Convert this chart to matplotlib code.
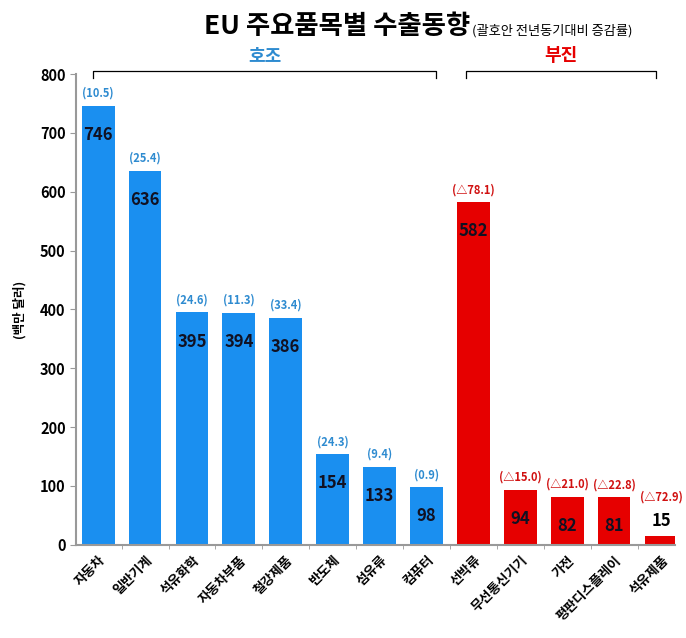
import matplotlib
matplotlib.use("Agg")
import matplotlib.pyplot as plt
from matplotlib.ticker import MultipleLocator

plt.rcParams['font.family'] = ['Noto Sans CJK KR', 'DejaVu Sans']

# data
items = ["자동차", "일반기계", "석유화학", "자동차부품", "철강제품", "반도체", "섬유류", "컴퓨터",
         "선박류", "무선통신기기", "가전", "평판디스플레이", "석유제품"]
values = [746, 636, 395, 394, 386, 154, 133, 98, 582, 94, 82, 81, 15]
changes = ["(10.5)", "(25.4)", "(24.6)", "(11.3)", "(33.4)", "(24.3)", "(9.4)", "(0.9)",
           "(△78.1)", "(△15.0)", "(△21.0)", "(△22.8)", "(△72.9)"]
n_good = 8

BLUE = "#1a8ff0"
RED = "#e60000"
BLUE_TXT = "#2e8bd0"
RED_TXT = "#d01010"

fig = plt.figure(figsize=(6.86, 6.38), dpi=100)
ax = fig.add_axes([0.111, 0.146, 0.873, 0.738])

x = list(range(len(items)))
colors = [BLUE if i < n_good else RED for i in x]
ax.bar(x, values, width=0.7, color=colors, zorder=2)

for i, v in enumerate(values):
    good = i < n_good
    if v > 40:
        ax.annotate(str(v), (i, v), xytext=(0, -21), textcoords="offset points",
                    ha="center", va="center", fontsize=12, fontweight="bold",
                    color="#111122")
        ax.annotate(changes[i], (i, v), xytext=(0, 9), textcoords="offset points",
                    ha="center", va="center", fontsize=8, fontweight="bold",
                    color=BLUE_TXT if good else RED_TXT)
    else:
        ax.annotate(str(v), (i, v), xytext=(0, 11), textcoords="offset points",
                    ha="center", va="center", fontsize=12, fontweight="bold",
                    color="black")
        ax.annotate(changes[i], (i, v), xytext=(0, 28), textcoords="offset points",
                    ha="center", va="center", fontsize=8, fontweight="bold",
                    color=RED_TXT)

ax.set_xlim(-0.47, 12.3)
ax.set_ylim(0, 800)
ax.yaxis.set_major_locator(MultipleLocator(100))
ax.set_xticks(x)
ax.set_xticklabels(items, rotation=45, ha="right", rotation_mode="anchor",
                   fontsize=9.5, fontweight="bold")
ax.set_xticks([i + 0.5 for i in x[:-1]], minor=True)
ax.tick_params(axis="x", which="major", length=0, pad=6)
ax.tick_params(axis="x", which="minor", length=3, color="#999999")
ax.tick_params(axis="y", length=4, color="#999999", labelsize=10.5)
for lab in ax.get_yticklabels():
    lab.set_fontweight("bold")

for s in ["top", "right"]:
    ax.spines[s].set_visible(False)
for s in ["left", "bottom"]:
    ax.spines[s].set_color("#999999")
    ax.spines[s].set_linewidth(1.5)

ax.set_ylabel("(백만 달러)", fontsize=9, fontweight="bold", labelpad=10)

# group brackets
def bracket(x0, x1, y, label, color):
    ax.plot([x0, x0, x1, x1], [y - 12, y, y, y - 12], color="black", lw=0.9,
            clip_on=False)
    ax.text((x0 + x1) / 2, y + 10, label, ha="center", va="bottom",
            fontsize=13, fontweight="bold", color=color)

bracket(-0.1, 7.2, 805, "호조", BLUE_TXT)
bracket(7.85, 11.9, 805, "부진", RED)

title = fig.text(0.297, 0.958, "EU 주요품목별 수출동향", fontsize=19, fontweight="bold",
                 ha="left", va="center")
fig.canvas.draw()
bb = title.get_window_extent().transformed(fig.transFigure.inverted())
fig.text(bb.x1 + 0.003, 0.952, "(괄호안 전년동기대비 증감률)", fontsize=9.5,
         ha="left", va="center")

fig.savefig("out.png", dpi=100)
